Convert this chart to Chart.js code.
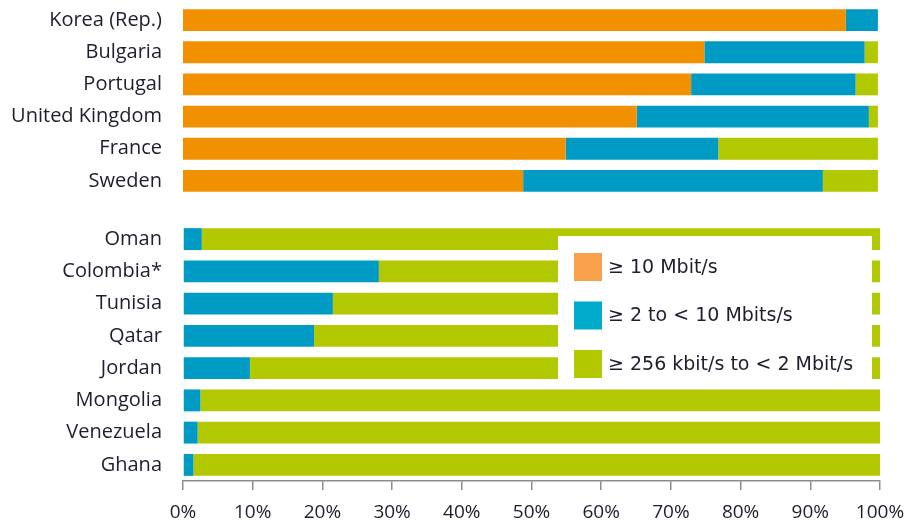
<!DOCTYPE html>
<html>
<head>
<meta charset="utf-8">
<script src="https://cdn.jsdelivr.net/npm/chart.js@4.4.1/dist/chart.umd.min.js"></script>
<style>
    html, body { margin: 0; padding: 0; background: #fff; }
    #wrap { position: relative; width: 910px; height: 522px; }
    .box { position: absolute; left: 0; width: 910px; }
    #topBox { top: 0; height: 197px; }
    #bottomBox { top: 200px; height: 322px; }
</style>
</head>
<body>
<div id="wrap">
    <div class="box" id="topBox"><canvas id="topChart"></canvas></div>
    <div class="box" id="bottomBox"><canvas id="bottomChart"></canvas></div>
</div>
<script>
// upper group
const topCountries = ['Korea (Rep.)', 'Bulgaria', 'Portugal', 'United Kingdom', 'France', 'Sweden'];
const topFast = [95.1, 74.8, 72.9, 65.1, 54.9, 48.8];
const topMid = [4.6, 23.0, 23.6, 33.3, 21.9, 43.0];
const topSlow = [0, 1.9, 3.2, 1.3, 22.9, 7.9];

// lower group
const lowCountries = ['Oman', 'Colombia*', 'Tunisia', 'Qatar', 'Jordan', 'Mongolia', 'Venezuela', 'Ghana'];
const lowFast = [0, 0, 0, 0, 0, 0, 0, 0];
const lowMid = [2.7, 28.1, 21.5, 18.8, 9.6, 2.5, 2.1, 1.5];
const lowSlow = [97.3, 71.9, 78.5, 81.2, 90.4, 97.5, 97.9, 98.5];

const seriesNames = ['\u2265 10 Mbit/s', '\u2265 2 to < 10 Mbits/s', '\u2265 256 kbit/s to < 2 Mbit/s'];
const xTicks = [0, 10, 20, 30, 40, 50, 60, 70, 80, 90, 100];

const barColors = ['#f29100', '#009bc4', '#b2c800'];
const swatchColors = ['#f9a04b', '#00aacb', '#b2c800'];
const textColor = '#1e1e2c';
const fontFamily = '"Open Sans", "DejaVu Sans", sans-serif';

function makeSets(fast, mid, slow) {
    return [fast, mid, slow].map((d, i) => ({
        label: seriesNames[i],
        data: d,
        backgroundColor: barColors[i],
        borderWidth: 0,
        barPercentage: 0.68,
        categoryPercentage: 1.0
    }));
}

function yAxis() {
    return {
        stacked: true,
        grid: { display: false, drawTicks: false },
        border: { display: false },
        ticks: {
            color: textColor,
            padding: 21,
            font: { family: fontFamily, size: 20, weight: 500 }
        },
        afterFit: s => {
            s.width = 183;
            // keep the label padding from eating into the bar area
            s.paddingTop = 0;
            s.paddingBottom = 0;
        }
    };
}

// legend box drawn over the lower chart
const legendBox = {
    id: 'legendBox',
    afterDatasetsDraw(chart) {
        const ctx = chart.ctx, a = chart.chartArea;
        const x0 = a.right - 322, y0 = a.top + 13, w = 314, h = 152;
        ctx.save();
        ctx.fillStyle = '#fff';
        ctx.fillRect(x0, y0, w, h);
        ctx.font = '19px "DejaVu Sans", sans-serif';
        ctx.textBaseline = 'middle';
        seriesNames.forEach((name, i) => {
            const cy = y0 + 31 + i * 48.5;
            ctx.fillStyle = swatchColors[i];
            ctx.fillRect(x0 + 16, cy - 14, 28, 28);
            ctx.fillStyle = textColor;
            ctx.fillText(name, x0 + 50, cy + 1);
        });
        ctx.restore();
    }
};

new Chart(document.getElementById('topChart'), {
    type: 'bar',
    data: { labels: topCountries, datasets: makeSets(topFast, topMid, topSlow) },
    options: {
        indexAxis: 'y',
        responsive: true,
        maintainAspectRatio: false,
        animation: false,
        layout: { padding: { top: 4, right: 30, bottom: 0, left: 0 } },
        plugins: { legend: { display: false }, tooltip: { enabled: false } },
        scales: {
            x: { stacked: true, display: false, min: 0, max: 100 },
            y: yAxis()
        }
    }
});

new Chart(document.getElementById('bottomChart'), {
    type: 'bar',
    data: { labels: lowCountries, datasets: makeSets(lowFast, lowMid, lowSlow) },
    options: {
        indexAxis: 'y',
        responsive: true,
        maintainAspectRatio: false,
        animation: false,
        layout: { padding: { top: 23, right: 30, bottom: 0, left: 0 } },
        plugins: { legend: { display: false }, tooltip: { enabled: false } },
        scales: {
            x: {
                stacked: true,
                min: 0,
                max: 100,
                afterBuildTicks: s => { s.ticks = xTicks.map(v => ({ value: v })); },
                grid: { drawOnChartArea: false, drawTicks: true, tickLength: 9, color: '#8c8c8c', lineWidth: 1.5 },
                border: { display: true, color: '#8c8c8c', width: 1.5 },
                ticks: {
                    color: textColor,
                    padding: 11,
                    maxRotation: 0,
                    autoSkip: false,
                    font: { family: fontFamily, size: 19, weight: 500 },
                    callback: v => v + '%'
                },
                afterFit: s => {
                    s.height = 41;
                    s.paddingLeft = 0;
                    s.paddingRight = 0;
                }
            },
            y: yAxis()
        }
    },
    plugins: [legendBox]
});
</script>
</body>
</html>
